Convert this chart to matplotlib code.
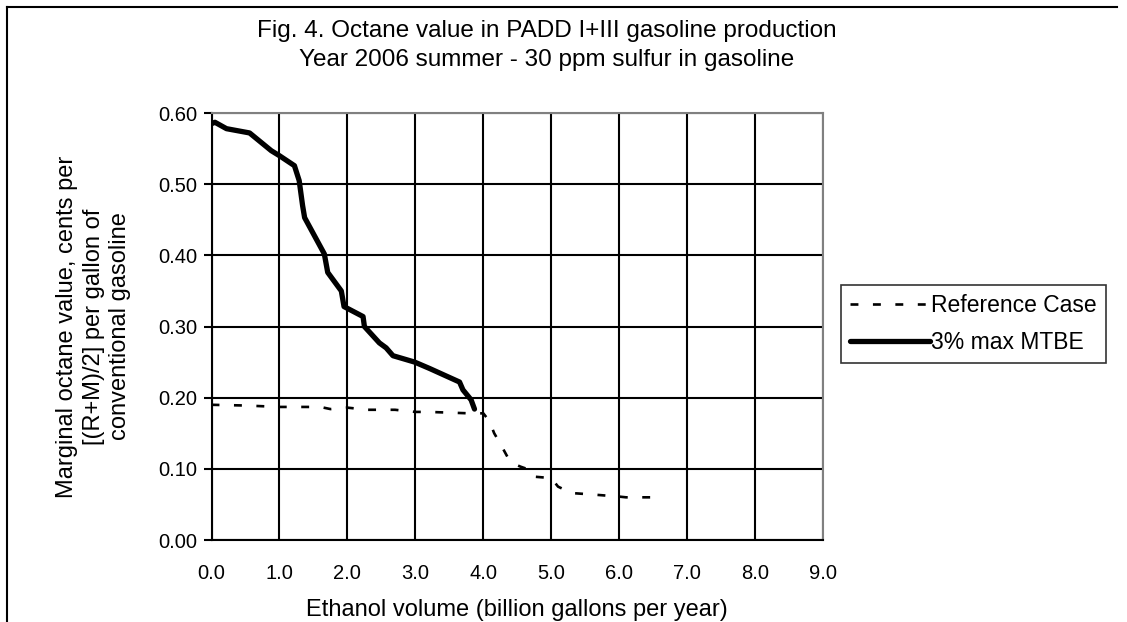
import numpy as np
import matplotlib.pyplot as plt
from matplotlib.lines import Line2D

# Reference case (dashed)
ref_x = [0.0, 0.5, 1.0, 1.6, 1.75, 2.0, 2.3, 2.7, 3.0, 3.2, 3.5, 3.8, 4.0,
         4.09, 4.16, 4.24, 4.36, 4.45, 4.55, 4.7, 4.75, 5.0, 5.1, 5.3, 5.6,
         6.0, 6.1, 6.5]
ref_y = [0.190, 0.189, 0.187, 0.187, 0.184, 0.186, 0.183, 0.183, 0.180,
         0.180, 0.179, 0.178, 0.178, 0.167, 0.150, 0.137, 0.116, 0.107,
         0.103, 0.098, 0.089, 0.087, 0.075, 0.066, 0.064, 0.061, 0.060, 0.060]

# 3% max MTBE (solid)
mtbe_x = [0.0, 0.05, 0.22, 0.56, 0.88, 1.0, 1.22, 1.29, 1.34, 1.37, 1.66,
          1.71, 1.91, 1.95, 2.13, 2.23, 2.25, 2.47, 2.57, 2.67, 2.99, 3.21,
          3.65, 3.70, 3.82, 3.87]
mtbe_y = [0.585, 0.587, 0.578, 0.572, 0.547, 0.540, 0.526, 0.505, 0.470,
          0.453, 0.402, 0.376, 0.350, 0.328, 0.319, 0.314, 0.300, 0.277,
          0.270, 0.259, 0.250, 0.241, 0.222, 0.211, 0.197, 0.184]

plt.rcParams['font.family'] = ['Liberation Sans', 'DejaVu Sans']

fig = plt.figure(figsize=(11.27, 6.22), dpi=100)
ax = fig.add_axes([0.1877, 0.1318, 0.5426, 0.6865])

ax.plot(ref_x, ref_y, color='black', lw=1.9, linestyle=(0, (3, 5.5)),
        label='Reference Case')
ax.plot(mtbe_x, mtbe_y, color='black', lw=3.8, solid_capstyle='round',
        label='3% max MTBE')

ax.set_xlim(0, 9)
ax.set_ylim(0, 0.6)
ax.set_xticks(np.arange(0, 10, 1))
ax.set_xticklabels(['%.1f' % v for v in range(10)])
ax.set_yticks(np.arange(0, 0.61, 0.1))
ax.set_yticklabels(['%.2f' % v for v in np.arange(0, 0.61, 0.1)])
ax.tick_params(axis='y', length=6, width=1.5, labelsize=14.5, pad=4)
ax.tick_params(axis='x', length=0, labelsize=14.5, pad=17)
ax.grid(True, color='black', lw=1.5)
ax.set_axisbelow(True)
for s in ['left', 'bottom']:
    ax.spines[s].set_color('black')
    ax.spines[s].set_linewidth(1.5)
for s in ['top', 'right']:
    ax.spines[s].set_color('#808080')
    ax.spines[s].set_linewidth(1.5)

ax.set_xlabel('Ethanol volume (billion gallons per year)', fontsize=17, labelpad=12)
fig.text(0.083, 0.475, 'Marginal octane value, cents per\n[(R+M)/2] per gallon of\nconventional gasoline',
         rotation=90, ha='center', va='center', fontsize=17, linespacing=1.25)

fig.text(0.485, 0.950, 'Fig. 4. Octane value in PADD I+III gasoline production',
         ha='center', va='center', fontsize=17.5)
fig.text(0.485, 0.903, 'Year 2006 summer - 30 ppm sulfur in gasoline',
         ha='center', va='center', fontsize=17.5)

leg = ax.legend(loc='upper left', bbox_to_anchor=(0.7461, 0.5418),
                bbox_transform=fig.transFigure, fontsize=16.5, frameon=True,
                fancybox=False, handlelength=3.5, handletextpad=0.05,
                borderpad=0.4, labelspacing=0.6, borderaxespad=0)
leg.get_frame().set_edgecolor('black')
leg.get_frame().set_linewidth(1.2)

# figure frame (left and top edges)
fig.add_artist(Line2D([0.0058, 0.0058], [0.0, 0.9887], color='black', lw=1.5,
                      transform=fig.transFigure))
fig.add_artist(Line2D([0.0058, 0.991], [0.9887, 0.9887], color='black', lw=1.5,
                      transform=fig.transFigure))

fig.savefig('out.png', dpi=100)
